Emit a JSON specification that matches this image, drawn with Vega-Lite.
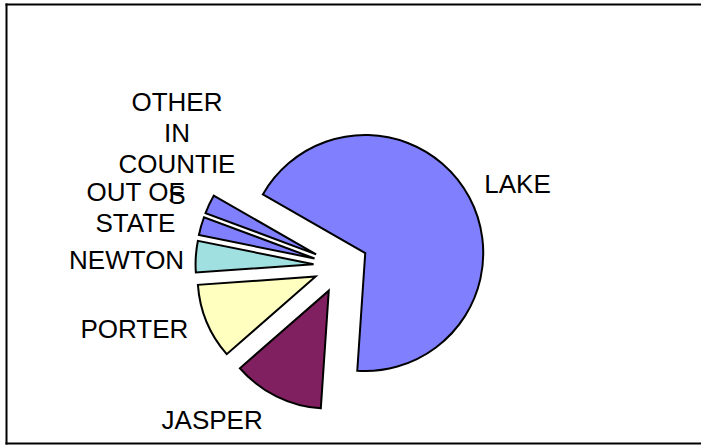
{
  "$schema": "https://vega.github.io/schema/vega-lite/v6.json",
  "width": 695,
  "height": 439,
  "autosize": "none",
  "padding": {"left": 6, "top": 4, "right": 0, "bottom": 2},
  "background": "white",
  "view": {"stroke": null},
  "data": {
    "values": [
      {"idx": 1, "county": "LAKE", "label": "LAKE", "pct": 67.8},
      {"idx": 2, "county": "JASPER", "label": "JASPER", "pct": 12.5},
      {"idx": 3, "county": "PORTER", "label": "PORTER", "pct": 10.3},
      {"idx": 4, "county": "NEWTON", "label": "NEWTON", "pct": 4.3},
      {"idx": 5, "county": "OUT OF STATE", "label": "OUT OF\nSTATE", "pct": 2.5},
      {"idx": 6, "county": "OTHER IN COUNTIES", "label": "OTHER\nIN\nCOUNTIE\nS", "pct": 2.6}
    ]
  },
  "transform": [
    {"stack": "pct", "groupby": [], "as": ["s0", "s1"], "sort": [{"field": "idx", "order": "ascending"}]},
    {"calculate": "(datum.s0 + datum.s1) / 2", "as": "m"},
    {"calculate": "5.2325 + datum.m / 100 * 2 * PI", "as": "mid"},
    {"calculate": "sin(datum.mid)", "as": "ex"},
    {"calculate": "cos(datum.mid)", "as": "ey"}
  ],
  "encoding": {
    "x": {"field": "ex", "type": "quantitative", "scale": {"domain": [-12.182, 13.091], "nice": false, "zero": false}, "axis": null},
    "y": {"field": "ey", "type": "quantitative", "scale": {"domain": [-6.436, 9.527], "nice": false, "zero": false}, "axis": null}
  },
  "resolve": {"axis": {"x": "independent", "y": "independent"}},
  "layer": [
    {
      "mark": {"type": "arc", "radius": 118, "stroke": "black", "strokeWidth": 2, "strokeJoin": "miter"},
      "encoding": {
        "x": {"field": "ex", "type": "quantitative", "axis": {"orient": "bottom", "domain": true, "domainColor": "black", "domainWidth": 2, "domainCap": "square", "ticks": false, "labels": false, "grid": false, "title": null}},
        "y": {"field": "ey", "type": "quantitative", "axis": {"orient": "left", "domain": true, "domainColor": "black", "domainWidth": 2, "domainCap": "square", "ticks": false, "labels": false, "grid": false, "title": null}},
        "theta": {"field": "s0", "type": "quantitative", "scale": {"domain": [0, 100], "range": [5.2325, 11.5157]}},
        "theta2": {"field": "s1"},
        "color": {
          "field": "county",
          "type": "nominal",
          "scale": {
            "domain": ["LAKE", "JASPER", "PORTER", "NEWTON", "OUT OF STATE", "OTHER IN COUNTIES"],
            "range": ["#8080ff", "#802060", "#ffffc0", "#a0e0e0", "#8080ff", "#8080ff"]
          },
          "legend": null
        }
      }
    },
    {
      "transform": [{"filter": "datum.county == 'LAKE'"}],
      "mark": {"type": "text", "font": "Liberation Sans", "fontSize": 26, "lineBreak": "\n", "lineHeight": 31, "color": "black", "radius": 167, "thetaOffset": 0.069},
      "encoding": {
        "x": {"field": "ex", "type": "quantitative", "axis": {"orient": "top", "domain": true, "domainColor": "black", "domainWidth": 2, "domainCap": "square", "ticks": false, "labels": false, "grid": false, "title": null}},
        "theta": {"field": "m", "type": "quantitative"},
        "text": {"field": "label"}
      }
    },
    {
      "transform": [{"filter": "datum.county == 'JASPER'"}],
      "mark": {"type": "text", "font": "Liberation Sans", "fontSize": 26, "lineBreak": "\n", "lineHeight": 31, "color": "black", "radius": 175, "thetaOffset": 0.269},
      "encoding": {"theta": {"field": "m", "type": "quantitative"}, "text": {"field": "label"}}
    },
    {
      "transform": [{"filter": "datum.county == 'PORTER'"}],
      "mark": {"type": "text", "font": "Liberation Sans", "fontSize": 26, "lineBreak": "\n", "lineHeight": 31, "color": "black", "radius": 189, "thetaOffset": 0.106},
      "encoding": {"theta": {"field": "m", "type": "quantitative"}, "text": {"field": "label"}}
    },
    {
      "transform": [{"filter": "datum.county == 'NEWTON'"}],
      "mark": {"type": "text", "font": "Liberation Sans", "fontSize": 26, "lineBreak": "\n", "lineHeight": 31, "color": "black", "radius": 187, "thetaOffset": -0.047},
      "encoding": {"theta": {"field": "m", "type": "quantitative"}, "text": {"field": "label"}}
    },
    {
      "transform": [{"filter": "datum.county == 'OUT OF STATE'"}],
      "mark": {"type": "text", "font": "Liberation Sans", "fontSize": 26, "lineBreak": "\n", "lineHeight": 31, "color": "black", "radius": 186, "thetaOffset": -0.005, "dy": -15.5},
      "encoding": {"theta": {"field": "m", "type": "quantitative"}, "text": {"field": "label"}}
    },
    {
      "transform": [{"filter": "datum.county == 'OTHER IN COUNTIES'"}],
      "mark": {"type": "text", "font": "Liberation Sans", "fontSize": 26, "lineBreak": "\n", "lineHeight": 31, "color": "black", "radius": 175, "thetaOffset": 0.213, "dy": -45},
      "encoding": {"theta": {"field": "m", "type": "quantitative"}, "text": {"field": "label"}}
    }
  ]
}
